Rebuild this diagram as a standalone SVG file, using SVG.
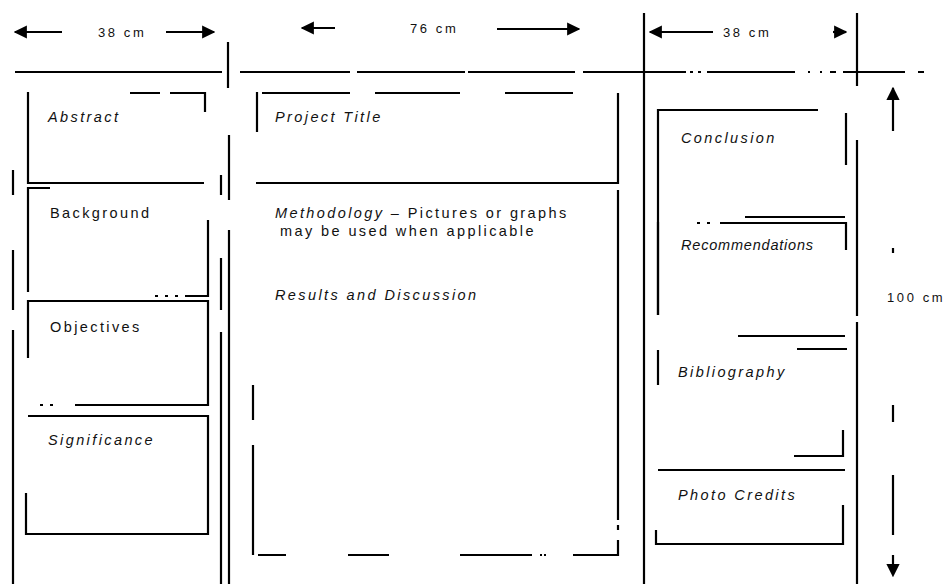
<svg xmlns="http://www.w3.org/2000/svg" width="949" height="584" viewBox="0 0 949 584">
<defs>
<style>
.l{stroke:#000;stroke-width:2.2;fill:none}
.t{font-family:"Liberation Sans",Arial,sans-serif;font-size:14.5px;letter-spacing:2.4px;fill:#111}
.i{font-style:italic}
.d{font-family:"Liberation Sans",Arial,sans-serif;font-size:13px;letter-spacing:2.6px;fill:#111}
</style>
<marker id="ah" viewBox="0 0 10 10" refX="9" refY="5" markerWidth="6" markerHeight="6" orient="auto-start-reverse" markerUnits="strokeWidth">
<path d="M0,0 L10,5 L0,10 Z" fill="#000"/>
</marker>
</defs>
<rect width="949" height="584" fill="#fff"/>

<g id="connectors">
<line class="l" x1="62" y1="32" x2="15" y2="32" marker-end="url(#ah)"/>
<line class="l" x1="166" y1="32" x2="214" y2="32" marker-end="url(#ah)"/>
<line class="l" x1="335" y1="28" x2="302" y2="28" marker-end="url(#ah)"/>
<line class="l" x1="497" y1="29" x2="579" y2="29" marker-end="url(#ah)"/>
<line class="l" x1="713" y1="32" x2="650" y2="32" marker-end="url(#ah)"/>
<line class="l" x1="833" y1="32" x2="846" y2="32" marker-end="url(#ah)"/>
<line class="l" x1="893" y1="131" x2="893" y2="88" marker-end="url(#ah)"/>
<line class="l" x1="893" y1="248" x2="893" y2="253"/>
<line class="l" x1="893" y1="405" x2="893" y2="422"/>
<line class="l" x1="893" y1="475" x2="893" y2="576" stroke-dasharray="60 20 10 100" marker-end="url(#ah)"/>
</g>

<g id="frame">
<path class="l" d="M15,72 H222 M240,72 H350 M357,72 H465 M468,72 H575 M583,72 H686 M707,72 H795 M843,72 H905"/>
<path class="l" d="M690,72 h3 M698,72 h3 M808,72 h2 M820,72 h2 M830,72 h6 M918,72 h6"/>
<path class="l" d="M228,42 V88"/>
<path class="l" d="M644,13 V584" stroke-width="3"/>
<path class="l" d="M857,13 V86"/>
<path class="l" d="M13,170 V195 M13,250 V310 M13,330 V584"/>
<path class="l" d="M221,175 V195 M221,258 V310 M221,332 V584"/>
<path class="l" d="M229,135 V200 M229,230 V584"/>
<path class="l" d="M857,140 V316 M857,322 V584"/>
</g>

<g id="abstract">
<path class="l" d="M28,92 V183 H204 M130,93 H160 M170,93 H205 V112"/>
<text class="t i" x="48" y="122">Abstract</text>
</g>

<g id="background">
<path class="l" d="M28,292 V188 H50 M208,220 V296 H185"/>
<path class="l" d="M155,296 h3 M165,296 h3 M175,296 h3"/>
<text class="t" x="50" y="218">Background</text>
</g>

<g id="objectives">
<path class="l" d="M28,358 V301 H208 V405 H75"/>
<path class="l" d="M40,405 h3 M50,405 h3"/>
<text class="t" x="50" y="332">Objectives</text>
</g>

<g id="significance">
<path class="l" d="M28,416 H208 V534 H26 V493"/>
<text class="t i" x="48" y="445">Significance</text>
</g>

<g id="project-title">
<path class="l" d="M257,132 V92 M262,93 H350 M375,93 H460 M505,93 H573 M618,93 V183 H256"/>
<text class="t i" x="275" y="122">Project Title</text>
</g>

<g id="main-panel">
<path class="l" d="M618,190 V520 M618,525 V530 M618,540 V555 H573 M540,555 h2 M544,555 h2 M532,555 H460 M389,555 H348 M286,555 H258 M253,555 V445 M253,385 V420"/>
<text class="t" x="275" y="218"><tspan class="i">Methodology</tspan> – Pictures or graphs</text>
<text class="t" x="280" y="236">may be used when applicable</text>
<text class="t i" x="275" y="300">Results and Discussion</text>
</g>

<g id="conclusion">
<path class="l" d="M658,315 V110 H818 M846,113 V165"/>
<text class="t i" x="681" y="143">Conclusion</text>
</g>

<g id="recommendations">
<path class="l" d="M745,217 H845 M720,223 H846 V250 M658,222 V315"/>
<path class="l" d="M697,223 h3 M707,223 h3"/>
<text class="t i" x="681" y="250" style="letter-spacing:0.8px">Recommendations</text>
</g>

<g id="bibliography">
<path class="l" d="M738,336 H845 M797,349 H847 M843,430 V456 H794 M658,350 V385"/>
<text class="t i" x="678" y="377">Bibliography</text>
</g>

<g id="photo-credits">
<path class="l" d="M658,470 H845 M843,505 V544 H656 V530"/>
<text class="t i" x="678" y="500">Photo Credits</text>
</g>

<g id="dimension-labels">
<text class="d" x="98" y="37">38 cm</text>
<text class="d" x="410" y="33">76 cm</text>
<text class="d" x="723" y="37">38 cm</text>
<text class="d" x="887" y="302">100 cm</text>
</g>
</svg>
